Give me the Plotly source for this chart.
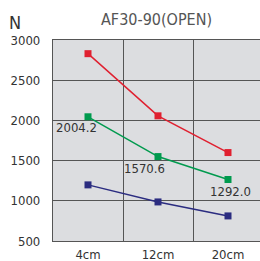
import plotly.graph_objects as go

categories = ["4cm", "12cm", "20cm"]
red_values = [2830, 2057, 1600]
green_values = [2045, 1550, 1265]
blue_values = [1198, 986, 812]
green_labels = ["2004.2", "1570.6", "1292.0"]
y_ticks = [500, 1000, 1500, 2000, 2500, 3000]

FONT = "DejaVu Sans Condensed, Liberation Sans Narrow, sans-serif"
xs = list(range(len(categories)))

fig = go.Figure()
for vals, col in [(red_values, "#e02030"), (green_values, "#009a4e"), (blue_values, "#2b2c80")]:
    fig.add_trace(go.Scatter(x=xs, y=vals, mode="lines+markers",
                             line=dict(color=col, width=1.5),
                             marker=dict(symbol="square", size=7, color=col),
                             showlegend=False, hoverinfo="skip"))

shifts = [(-12, -11), (-14, -12), (2, -12)]
for i, (lab, (dx, dy)) in enumerate(zip(green_labels, shifts)):
    fig.add_annotation(x=xs[i], y=green_values[i], text=lab, showarrow=False,
                       xshift=dx, yshift=dy, font=dict(family=FONT, size=13, color="#333"))

fig.add_annotation(xref="paper", yref="paper", x=0.5, y=1, yshift=21, xanchor="center",
                   yanchor="middle", text="AF30-90(OPEN)",
                   showarrow=False, font=dict(family=FONT, size=16, color="#555"))
fig.add_annotation(xref="paper", yref="paper", x=0, y=1, xshift=-46, yshift=18, xanchor="left",
                   yanchor="middle", text="N",
                   showarrow=False, font=dict(family=FONT, size=18, color="#333"))

fig.update_layout(
    width=260, height=261,
    margin=dict(l=53, r=0, t=40, b=20, autoexpand=False),
    paper_bgcolor="white", plot_bgcolor="#dcdde0",
    font=dict(family=FONT, size=13, color="#333"),
    xaxis=dict(range=[-0.5, -0.5 + 207 / 70], tickvals=xs, ticktext=categories,
               showgrid=False, zeroline=False, showline=True, linecolor="#555", linewidth=1.2,
               mirror=True, ticklabelstandoff=1, automargin=False,
               minor=dict(tickvals=[0.5, 1.5], showgrid=True, gridcolor="#555", gridwidth=1.2)),
    yaxis=dict(range=[500, 3000], tickvals=y_ticks, showgrid=True, gridcolor="#555", gridwidth=1.2,
               zeroline=False, showline=True, linecolor="#555", linewidth=1.2, mirror=True,
               ticklabelstandoff=9, automargin=False),
)

fig.write_html("out.html", config={"displayModeBar": False},
               post_script="document.body.style.margin='0';document.body.style.padding='0';")
